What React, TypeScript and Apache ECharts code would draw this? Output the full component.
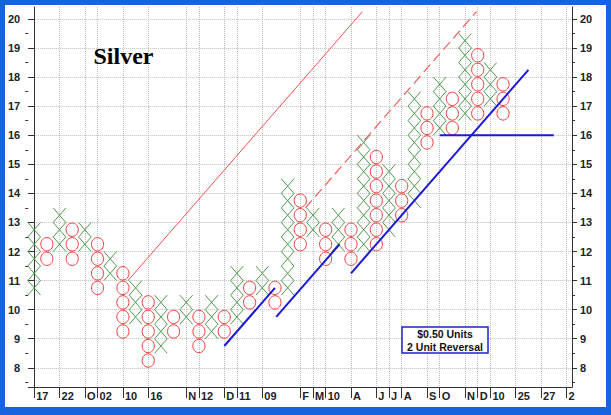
import React, { useEffect, useRef } from 'react';
import * as echarts from 'echarts';

// Point & figure columns (box centres, $0.50 boxes)
const colTypes = ['X','O','X','O','X','O','X','O','X','O','X','O','X','O','X','O','X','O','X','O','X','O','X','O','X','O','X','O','X','O','X','O','X','O','X','O','X','O'];
const colLows = [10.75,11.75,12.25,11.75,12.25,10.75,11.25,9.25,9.75,8.25,8.75,9.25,9.75,8.75,9.25,9.25,9.75,10.25,10.75,10.25,10.75,12.25,12.75,11.75,12.25,11.75,12.25,12.25,12.75,13.25,13.75,15.75,16.25,16.25,16.75,16.75,17.25,16.75];
const colHighs = [12.75,12.25,13.25,12.75,12.75,12.25,11.75,11.25,10.75,10.25,10.25,9.75,10.25,9.75,10.25,9.75,11.25,10.75,11.25,10.75,14.25,13.75,13.25,12.75,13.25,12.75,15.75,15.25,14.75,14.25,17.25,16.75,17.75,17.25,19.25,18.75,18.25,17.75];

const xTickCols = [0,2,4,5,7,9,12,13,15,16,18,21,22,23,25,27,28,29,31,32,34,35,36,38,40,42];
const xTickLabels = ['17','22','O','02','10','16','N','12','D','11','09','F','M','10','A','J','J','A','S','O','N','D','10','25','27','2'];
const yTickValues = [8,9,10,11,12,13,14,15,16,17,18,19,20];
const yMinorValues = [7.5,8.5,9.5,10.5,11.5,12.5,13.5,14.5,15.5,16.5,17.5,18.5,19.5];

const redSolidLine = [[7.4, 11.0],[25.9, 20.25]];
const redDashedLine = [[21.4, 13.5],[34.9, 20.25]];
const blueLine1 = [[15, 8.75],[19, 10.75]];
const blueLine2 = [[19.1, 9.75],[24.1, 12.25]];
const blueLine3 = [[25, 11.25],[39, 18.25]];
const blueFlat = [[32, 16],[41, 16]];

const FONT = 'Arial, "Liberation Sans", sans-serif';

function buildBoxes() {
  const out: number[][] = [];
  for (let i = 0; i < colTypes.length; i++) {
    for (let p = colLows[i]; p <= colHighs[i] + 1e-9; p += 0.5) {
      out.push([i, p, colTypes[i] === 'X' ? 0 : 1]);
    }
  }
  return out;
}

export default function App() {
  const ref = useRef<HTMLDivElement>(null);
  useEffect(() => {
    if (!ref.current) return;
    const chart = echarts.init(ref.current, undefined, { renderer: 'svg' });
    const yMin = 7.34, yMax = 20.41;
    const axisCommon = { type: 'value', min: yMin, max: yMax };
    const lineSeries = (data: number[][], color: string, width: number, type: any = 'solid') => ({
      type: 'line', data, symbol: 'none', silent: true, z: 5,
      lineStyle: { color, width, type },
    });
    const labelStyle = { fontSize: 11, fontWeight: 'bold', color: '#222', fontFamily: FONT };
    chart.setOption({
      animation: false,
      backgroundColor: '#ffffff',
      grid: { left: 22, right: 34, top: 2, bottom: 20 },
      xAxis: {
        type: 'value', min: -0.47, max: 42.44,
        axisLine: { show: true, lineStyle: { color: '#333', width: 1 } },
        axisTick: { show: true, customValues: xTickCols, length: 11, inside: false, lineStyle: { color: '#333' } },
        axisLabel: {
          show: true, customValues: xTickCols, align: 'left', margin: 3, padding: [0, 0, 0, 2],
          ...labelStyle,
          formatter: (v: number) => { const k = xTickCols.indexOf(Math.round(v)); return k >= 0 ? xTickLabels[k] : ''; },
        },
        splitLine: { show: true, lineStyle: { type: 'dotted', color: '#bdbdbd', width: 1 } },
      },
      yAxis: [
        {
          ...axisCommon, position: 'left',
          axisLine: { show: true, lineStyle: { color: '#333', width: 1 } },
          axisTick: { show: true, customValues: yTickValues, length: 6, lineStyle: { color: '#333' } },
          axisLabel: { show: true, customValues: yTickValues, margin: 8, ...labelStyle, formatter: (v: number) => String(Math.round(v)) },
          splitLine: { show: true, lineStyle: { type: 'dotted', color: '#bdbdbd', width: 1 } },
        },
        {
          ...axisCommon, position: 'right',
          axisLine: { show: true, lineStyle: { color: '#333', width: 1 } },
          axisTick: { show: true, customValues: yTickValues, length: 5, lineStyle: { color: '#333' } },
          axisLabel: { show: true, customValues: yTickValues, margin: 8, ...labelStyle, formatter: (v: number) => String(Math.round(v)) },
          splitLine: { show: false },
        },
        {
          ...axisCommon, position: 'left',
          axisLine: { show: false },
          axisTick: { show: true, customValues: yMinorValues, length: 3, lineStyle: { color: '#333' } },
          axisLabel: { show: false },
          splitLine: { show: false },
        },
        {
          ...axisCommon, position: 'right',
          axisLine: { show: false },
          axisTick: { show: true, customValues: yMinorValues, length: 3, lineStyle: { color: '#333' } },
          axisLabel: { show: false },
          splitLine: { show: false },
        },
      ],
      series: [
        {
          type: 'custom', data: buildBoxes(), silent: true, z: 3,
          renderItem: (params: any, api: any) => {
            const c = api.coord([api.value(0), api.value(1)]);
            const s = api.size([1, 0.5]);
            const w = s[0], h = s[1];
            if (api.value(2) === 0) {
              const st = { stroke: '#4f9a4f', lineWidth: 1 };
              return {
                type: 'group', children: [
                  { type: 'line', shape: { x1: c[0] - w * 0.5, y1: c[1] - h * 0.5, x2: c[0] + w * 0.5, y2: c[1] + h * 0.5 }, style: st },
                  { type: 'line', shape: { x1: c[0] - w * 0.5, y1: c[1] + h * 0.5, x2: c[0] + w * 0.5, y2: c[1] - h * 0.5 }, style: st },
                ],
              };
            }
            return { type: 'ellipse', shape: { cx: c[0], cy: c[1], rx: w * 0.48, ry: h * 0.46 }, style: { stroke: '#ee3a3a', fill: 'none', lineWidth: 1 } };
          },
        },
        lineSeries(redSolidLine, '#f05050', 1),
        lineSeries(redDashedLine, '#f06060', 1.2, [10, 5]),
        lineSeries(blueLine1, '#1a1ad8', 2),
        lineSeries(blueLine2, '#1a1ad8', 2),
        lineSeries(blueLine3, '#1a1ad8', 2),
        lineSeries(blueFlat, '#1a1ad8', 2),
      ],
      graphic: [
        {
          type: 'text', x: 118.5, y: 51, z: 10,
          style: { text: 'Silver', fontSize: 24, fontWeight: 'bold', fontFamily: '"Liberation Serif", "Times New Roman", serif', fill: '#000', textAlign: 'center', textVerticalAlign: 'middle', align: 'center', verticalAlign: 'middle' },
        },
        {
          type: 'rect', z: 10, shape: { x: 397, y: 322, width: 86, height: 26 },
          style: { fill: '#fff', stroke: '#2020d0', lineWidth: 1.5 },
        },
        {
          type: 'text', x: 440, y: 328.5, z: 11,
          style: { text: '$0.50 Units', fontSize: 10.5, fontWeight: 'bold', fontFamily: FONT, fill: '#111', textAlign: 'center', textVerticalAlign: 'middle', align: 'center', verticalAlign: 'middle' },
        },
        {
          type: 'text', x: 440, y: 341.5, z: 11,
          style: { text: '2 Unit Reversal', fontSize: 10.5, fontWeight: 'bold', fontFamily: FONT, fill: '#111', textAlign: 'center', textVerticalAlign: 'middle', align: 'center', verticalAlign: 'middle' },
        },
      ],
    });
    return () => chart.dispose();
  }, []);
  return (
    <div style={{ position: 'absolute', left: 0, top: 0, width: 611, height: 415, background: '#1464e0' }}>
      <div ref={ref} style={{ position: 'absolute', left: 5, top: 5, width: 601, height: 402, background: '#fff' }} />
    </div>
  );
}
